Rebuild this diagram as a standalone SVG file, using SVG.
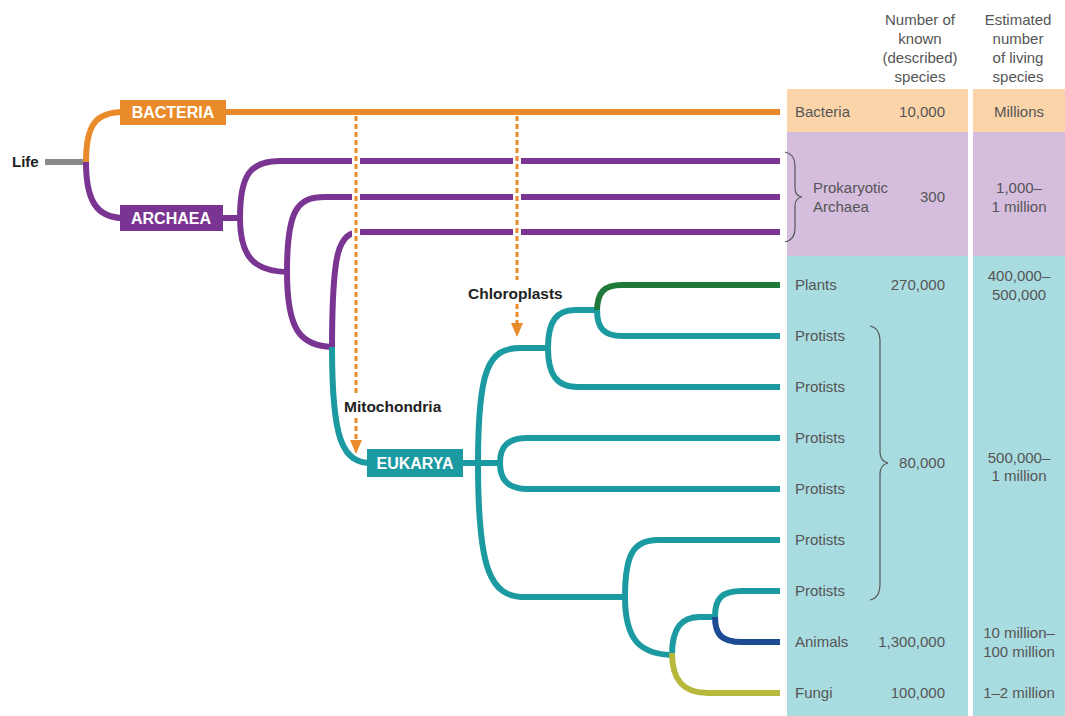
<svg xmlns="http://www.w3.org/2000/svg" width="1065" height="716" viewBox="0 0 1065 716">
<style>
.t{font-family:"Liberation Sans",Arial,sans-serif;font-size:15px;fill:#555}
.h{font-family:"Liberation Sans",Arial,sans-serif;font-size:15px;fill:#555;text-anchor:middle}
.c{text-anchor:middle}
.r{text-anchor:end}
.lb{font-family:"Liberation Sans",Arial,sans-serif;font-size:16px;font-weight:bold;fill:#fff;text-anchor:middle}
.bk{font-family:"Liberation Sans",Arial,sans-serif;font-size:15.5px;font-weight:bold;fill:#222}
.br{fill:none;stroke-width:6;stroke-linecap:butt}
.or{stroke:#E98B2A}.pu{stroke:#7A3592}.te{stroke:#1C9AA1}.gr{stroke:#1F7A3A}.db{stroke:#1D4C95}.ol{stroke:#B6B93B}.gy{stroke:#8A8A8A}
.dash{fill:none;stroke:#E98B2A;stroke-width:3;stroke-dasharray:5 3}
.halo{fill:none;stroke:#fff;stroke-width:8}
.brace{fill:none;stroke:#555;stroke-width:1.2}
</style>
<defs>
<marker id="ah" viewBox="0 0 14 12" markerWidth="14" markerHeight="12" refX="1" refY="6" orient="auto" markerUnits="userSpaceOnUse">
<path d="M0,0 L14,6 L0,12 Z" fill="#E98B2A"/>
</marker>
</defs>
<rect width="1065" height="716" fill="#fff"/>
<g id="table">
<rect x="787" y="89" width="181" height="43" fill="#FBD5A9"/>
<rect x="973" y="89" width="92" height="43" fill="#FBD5A9"/>
<rect x="787" y="132" width="181" height="124" fill="#D5BEDD"/>
<rect x="973" y="132" width="92" height="124" fill="#D5BEDD"/>
<rect x="787" y="256" width="181" height="460" fill="#A9DCE0"/>
<rect x="973" y="256" width="92" height="460" fill="#A9DCE0"/>
<text class="h" x="920" y="25">Number of</text>
<text class="h" x="920" y="44">known</text>
<text class="h" x="920" y="63">(described)</text>
<text class="h" x="920" y="82">species</text>
<text class="h" x="1018" y="25">Estimated</text>
<text class="h" x="1018" y="44">number</text>
<text class="h" x="1018" y="63">of living</text>
<text class="h" x="1018" y="82">species</text>
</g>
<g id="connectors">
<path class="br gy" d="M45,162 H88"/>
<path class="br or" d="M86,162 C86,124 96,112 124,112"/>
<path class="br or" d="M224,112 H780"/>
<path class="br pu" d="M86,162 C86,200 96,218 124,218"/>
<path class="br pu" d="M221,218 H240"/>
<path class="br pu" d="M240,218 C240,175 250,161 280,161 H780"/>
<path class="br pu" d="M240,218 C240,258 255,272 290,272"/>
<path class="br pu" d="M287,272 C287,210 297,197 325,197 H780"/>
<path class="br pu" d="M287,272 C287,330 300,347 335,347"/>
<path class="br pu" d="M332,350 C332,250 338,232 362,232 H780"/>
<path class="br te" d="M332,347 C332,440 342,463 372,463"/>
<path class="br te" d="M462,463 H503"/>
<path class="br te" d="M478,463 C478,370 488,348 520,348 H551"/>
<path class="br te" d="M548,348 C548,322 556,310 575,310 H600"/>
<path class="br te" d="M548,348 C548,374 556,387 578,387 H780"/>
<path class="br gr" d="M597,312 C597,292 604,285 622,285 H780"/>
<path class="br te" d="M597,310 C597,328 604,336 622,336 H780"/>
<path class="br te" d="M500,463 C500,446 508,438 528,438 H780"/>
<path class="br te" d="M500,463 C500,480 508,489 528,489 H780"/>
<path class="br te" d="M478,463 C478,570 490,597 525,597 H628"/>
<path class="br te" d="M625,597 C625,555 633,540 658,540 H780"/>
<path class="br te" d="M625,597 C625,640 640,655 675,655"/>
<path class="br te" d="M672,655 C672,627 682,617 700,617 H718"/>
<path class="br ol" d="M672,653 C672,680 683,693 708,693 H780"/>
<path class="br te" d="M715,617 C715,598 722,591 742,591 H780"/>
<path class="br db" d="M715,617 C715,635 722,642 742,642 H780"/>
<path class="halo" d="M356,150 V245"/>
<path class="halo" d="M517,150 V245"/>
<path class="dash" d="M356,116 V395"/>
<path class="dash" d="M356,418 V441" marker-end="url(#ah)"/>
<path class="dash" d="M517,116 V280"/>
<path class="dash" d="M517,304 V324" marker-end="url(#ah)"/>
<path class="brace" d="M785,152 Q795,154 795,166 V188 Q795,196 802,197 Q795,198 795,206 V228 Q795,240 785,242"/>
<path class="brace" d="M870,326 Q880,328 880,342 V452 Q880,461 888,463 Q880,465 880,474 V584 Q880,598 870,600"/>
</g>
<g id="life"><text class="bk" x="12" y="167" style="font-size:15px">Life</text></g>
<g id="bacteria"><rect x="120" y="100" width="106" height="25" fill="#E98B2A"/><text class="lb" x="173" y="118">BACTERIA</text></g>
<g id="archaea"><rect x="120" y="205" width="103" height="26" fill="#7A3592"/><text class="lb" x="171" y="224">ARCHAEA</text></g>
<g id="eukarya"><rect x="367" y="449" width="96" height="28" fill="#1C9AA1"/><text class="lb" x="415" y="469">EUKARYA</text></g>
<g id="mitochondria"><text class="bk" x="344" y="412">Mitochondria</text></g>
<g id="chloroplasts"><text class="bk" x="468" y="299">Chloroplasts</text></g>
<g id="rows">
<text class="t" x="795" y="117">Bacteria</text><text class="t r" x="945" y="117">10,000</text><text class="t c" x="1019" y="117">Millions</text>
<text class="t" x="813" y="193">Prokaryotic</text><text class="t" x="813" y="212">Archaea</text><text class="t r" x="945" y="202">300</text>
<text class="t c" x="1019" y="193">1,000–</text><text class="t c" x="1019" y="212">1 million</text>
<text class="t" x="795" y="290">Plants</text><text class="t r" x="945" y="290">270,000</text>
<text class="t c" x="1019" y="281">400,000–</text><text class="t c" x="1019" y="300">500,000</text>
<text class="t" x="795" y="341">Protists</text>
<text class="t" x="795" y="392">Protists</text>
<text class="t" x="795" y="443">Protists</text>
<text class="t" x="795" y="494">Protists</text>
<text class="t" x="795" y="545">Protists</text>
<text class="t" x="795" y="596">Protists</text>
<text class="t r" x="945" y="468">80,000</text>
<text class="t c" x="1019" y="463">500,000–</text><text class="t c" x="1019" y="481">1 million</text>
<text class="t" x="795" y="647">Animals</text><text class="t r" x="945" y="647">1,300,000</text>
<text class="t c" x="1019" y="638">10 million–</text><text class="t c" x="1019" y="657">100 million</text>
<text class="t" x="795" y="698">Fungi</text><text class="t r" x="945" y="698">100,000</text>
<text class="t c" x="1019" y="698">1–2 million</text>
</g>
</svg>
